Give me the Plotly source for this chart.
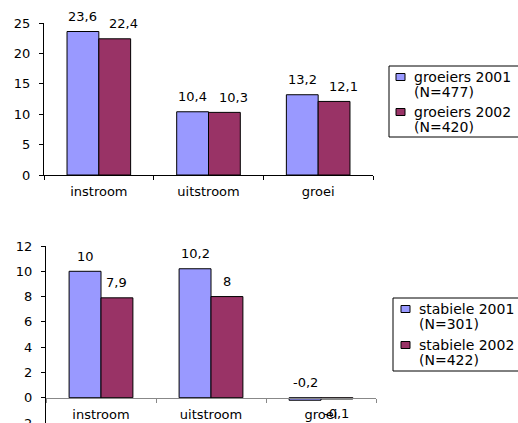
import plotly.graph_objects as go

# Category labels and the two pairs of series (percentages)
categories = ["instroom", "uitstroom", "groei"]

groeiers_2001 = [23.6, 10.4, 13.2]
groeiers_2002 = [22.4, 10.3, 12.1]
stabiele_2001 = [10.0, 10.2, -0.2]
stabiele_2002 = [7.9, 8.0, -0.1]

top_names = [("groeiers 2001", "(N=477)"), ("groeiers 2002", "(N=420)")]
bottom_names = [("stabiele 2001", "(N=301)"), ("stabiele 2002", "(N=422)")]

top_ticks = [0, 5, 10, 15, 20, 25]
bottom_ticks = [-2, 0, 2, 4, 6, 8, 10, 12]

COLORS = ["#9999FF", "#993366"]
FONT = "DejaVu Sans"
FS = 13
LEG_FS = 14
W, H = 518, 423
BARGAP = 0.42


def fmt(v):
    return f"{v:g}".replace(".", ",")


def px_x(x):
    return x / W


def px_y(y):
    return 1 - y / H


fig = go.Figure()

# Upper chart: groeiers
for j, ((l1, l2), vals) in enumerate(zip(top_names, [groeiers_2001, groeiers_2002])):
    fig.add_trace(go.Bar(
        x=categories, y=vals, name=f"{l1} {l2}",
        marker=dict(color=COLORS[j], line=dict(color="black", width=1)),
        xaxis="x", yaxis="y", showlegend=False,
    ))

# Lower chart: stabiele
for j, ((l1, l2), vals) in enumerate(zip(bottom_names, [stabiele_2001, stabiele_2002])):
    fig.add_trace(go.Bar(
        x=categories, y=vals, name=f"{l1} {l2}",
        marker=dict(color=COLORS[j], line=dict(color="black", width=1)),
        xaxis="x2", yaxis="y2", showlegend=False,
    ))

# Value labels over each bar
bar_w = (1 - BARGAP) / 2
annotations = []
for xref, yref, series, red_shift in [
    ("x", "y", [groeiers_2001, groeiers_2002], 9),
    ("x2", "y2", [stabiele_2001, stabiele_2002], 0),
]:
    for j, vals in enumerate(series):
        for i, v in enumerate(vals):
            above = v >= 0 or j == 0
            annotations.append(dict(
                x=i + (j - 0.5) * bar_w, y=max(v, 0) if above else v,
                xref=xref, yref=yref, text=fmt(v), showarrow=False,
                yanchor="middle", yshift=15 if above else -15,
                xshift=red_shift if j == 1 else 0,
                font=dict(family=FONT, size=FS, color="black"),
            ))

# Boxed legends drawn beside each chart (running off the right edge)
shapes = []
for names, box, mark_x, text_x, rows in [
    (top_names, (389, 66, 137), 396, 412, (77, 92, 112, 127)),
    (bottom_names, (393, 298, 371), 401, 417, (309, 324, 345, 360)),
]:
    bx, by0, by1 = box
    shapes.append(dict(
        type="rect", xref="paper", yref="paper",
        x0=px_x(bx), x1=px_x(W + 40), y0=px_y(by1), y1=px_y(by0),
        line=dict(color="black", width=1), fillcolor="white", layer="above",
    ))
    for j, (l1, l2) in enumerate(names):
        yc = rows[2 * j]
        shapes.append(dict(
            type="rect", xref="paper", yref="paper",
            x0=px_x(mark_x), x1=px_x(mark_x + 9),
            y0=px_y(yc + 3.5), y1=px_y(yc - 3.5),
            line=dict(color="black", width=1), fillcolor=COLORS[j], layer="above",
        ))
        for line_text, yl in [(l1, rows[2 * j]), (l2, rows[2 * j + 1])]:
            annotations.append(dict(
                x=px_x(text_x), y=px_y(yl), xref="paper", yref="paper",
                xanchor="left", yanchor="middle", text=line_text,
                showarrow=False, font=dict(family=FONT, size=LEG_FS, color="black"),
            ))

# Plot-area geometry in pixels
top_x0, top_x1, top_y0, top_y1 = 44, 373, 23, 175      # y1 = value 0
bot_x0, bot_x1, bot_y0, bot_y1 = 46, 376, 246, 423     # y1 = lower range end
bot_zero = 398

axis_common = dict(
    showgrid=False, zeroline=False, showline=True, linecolor="black",
    linewidth=1, ticks="outside", ticklen=4, tickcolor="black",
    automargin=False,
    tickfont=dict(family=FONT, size=FS, color="black"),
)

fig.update_layout(
    width=W, height=H, autosize=False,
    margin=dict(l=0, r=0, t=0, b=0),
    paper_bgcolor="white", plot_bgcolor="white",
    barmode="group", bargap=BARGAP, bargroupgap=0,
    font=dict(family=FONT, size=FS, color="black"),
    showlegend=False,
    xaxis=dict(
        domain=[px_x(top_x0), px_x(top_x1)], anchor="y",
        type="category", tickson="boundaries", ticklabelstandoff=4,
        **axis_common,
    ),
    yaxis=dict(
        domain=[px_y(top_y1), px_y(top_y0)], anchor="x",
        range=[0, 25], tickvals=top_ticks, ticklabelstandoff=6,
        **axis_common,
    ),
    xaxis2=dict(
        domain=[px_x(bot_x0), px_x(bot_x1)], anchor="free",
        position=px_y(bot_zero),
        type="category", tickson="boundaries", ticklabelstandoff=4,
        **{**axis_common, "linecolor": "#888888", "tickcolor": "#888888"},
    ),
    yaxis2=dict(
        domain=[px_y(bot_y1), px_y(bot_y0)], anchor="x2",
        range=[-2, 12], tickvals=bottom_ticks, ticklabelstandoff=6,
        ticklabeloverflow="allow",
        **axis_common,
    ),
    annotations=annotations,
    shapes=shapes,
)

fig.write_html("out.html")
